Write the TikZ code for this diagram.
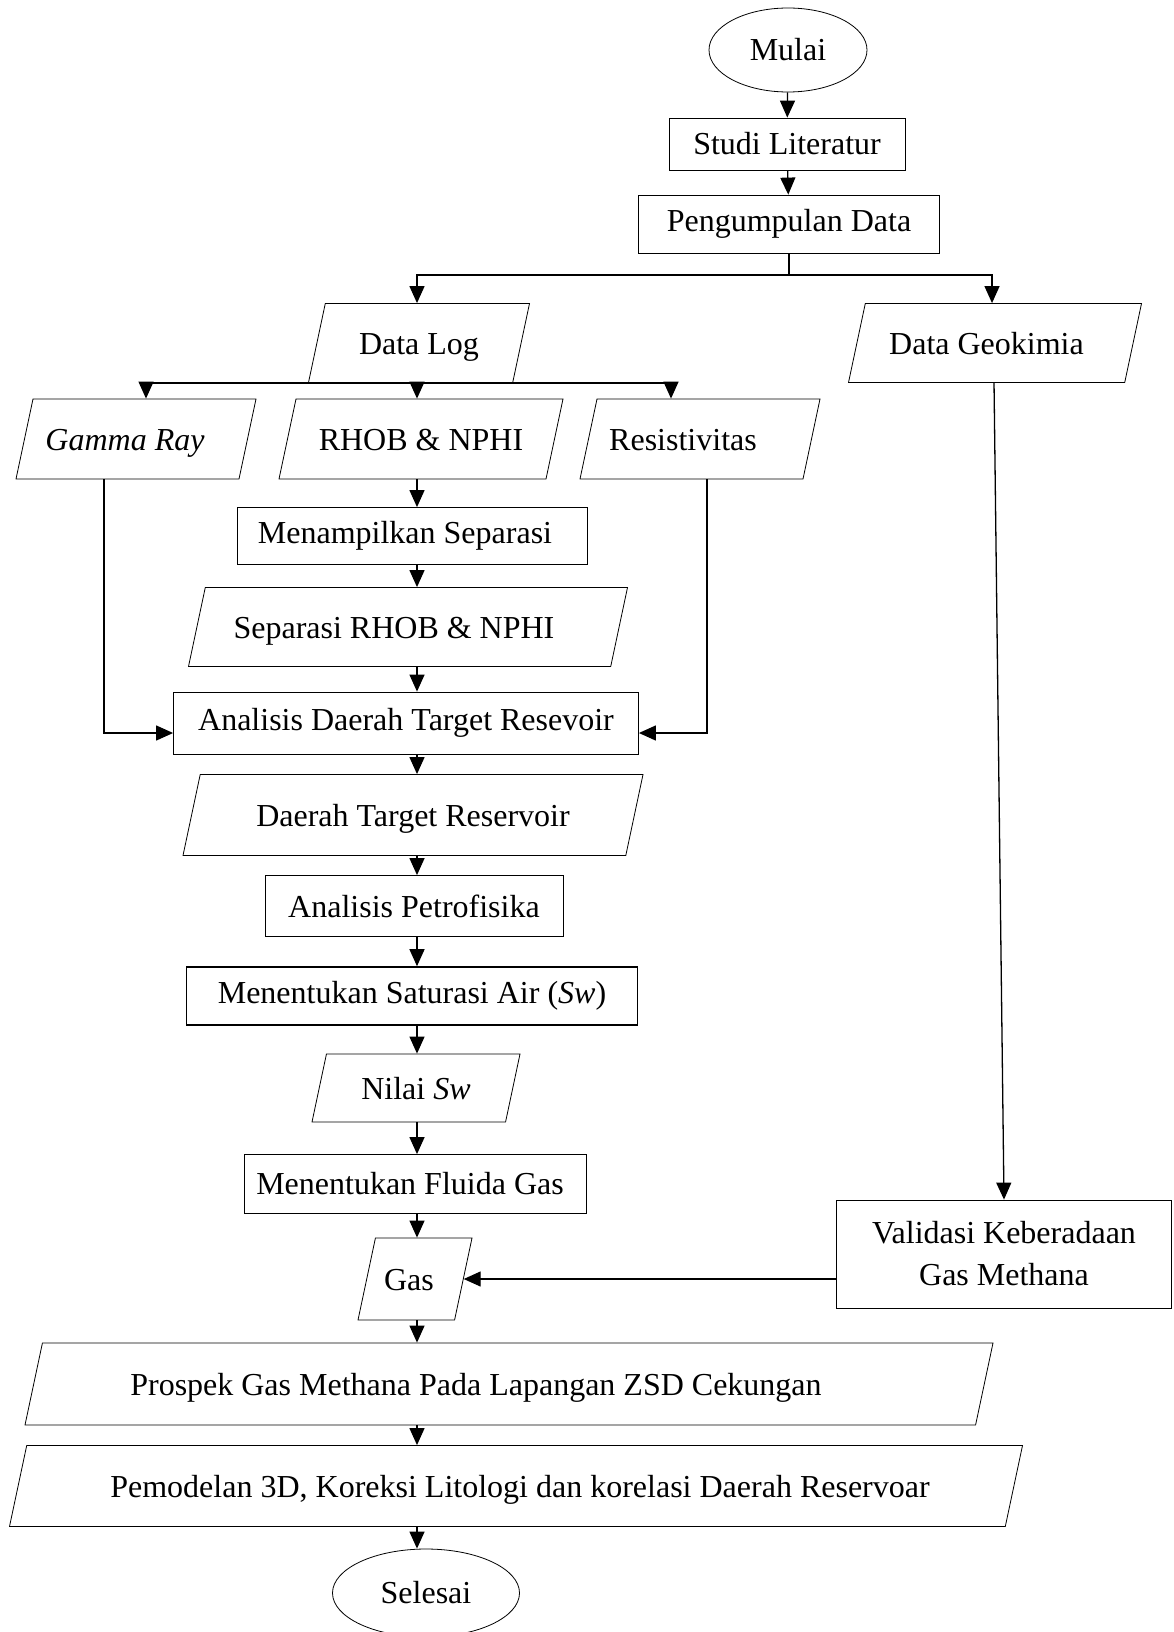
\documentclass[tikz,border=0pt]{standalone}
\usepackage{fontspec}
\setmainfont{Liberation Serif}
\usetikzlibrary{shapes.geometric,arrows.meta}

\begin{document}
\begin{tikzpicture}[x=1pt,y=1pt]
       \tikzstyle{every node}=[font=\fontsize{32}{42}\selectfont]
       \tikzstyle{prosesnode}=[draw, rectangle, line width=0.8pt, inner sep=0pt]
       \tikzstyle{datanode}=[draw, trapezium, trapezium left angle=78, trapezium right angle=102, trapezium stretches body, line width=0.8pt, inner xsep=0pt, text height=27pt, text depth=4pt]
       \tikzstyle{ujungnode}=[draw, ellipse, line width=0.8pt, inner sep=0pt]
       \tikzstyle{alur}=[draw, line width=1.3pt, -{Triangle[width=15pt,length=17pt]}]
       \useasboundingbox (0,0) rectangle (1173,-1632);
       \coordinate (kolom) at (417,0);
       % kolom kanan
       \node[ujungnode, minimum width=158pt, minimum height=84pt] (mulai) at (788,-50) {Mulai};
       \node[prosesnode, minimum width=236pt, minimum height=52pt] (studi) at (787,-144) {Studi Literatur};
       \node[prosesnode, minimum width=301pt, minimum height=58pt] (kumpul) at (789,-224) {Pengumpulan Data};
       \coordinate (cabang) at (789,-275);
       \node[datanode, minimum width=221pt, inner ysep=24pt] (datalog) at (419,-343) {Data Log};
       \node[datanode, minimum width=293pt, inner ysep=24pt] (geokimia) at (995,-343) {\kern-17pt Data Geokimia};
       % tiga data log
       \node[datanode, minimum width=240pt, inner ysep=24.5pt] (gamma) at (136,-439) {\kern-22pt\textit{Gamma Ray}};
       \node[datanode, minimum width=284pt, inner ysep=24.5pt] (rhob) at (421,-439) {RHOB \& NPHI};
       \node[datanode, minimum width=240pt, inner ysep=24.5pt] (resist) at (700,-439) {\kern-34pt Resistivitas};
       % kolom tengah
       \node[prosesnode, minimum width=350pt, minimum height=57pt] (tampil) at (412,-536) {\kern-14pt Menampilkan Separasi};
       \node[datanode, minimum width=439pt, inner ysep=24pt] (separasi) at (408,-627) {\kern-28pt Separasi RHOB \& NPHI};
       \node[prosesnode, minimum width=465pt, minimum height=62pt] (analisis) at (406,-723) {Analisis Daerah Target Resevoir};
       \node[datanode, minimum width=460pt, inner ysep=25pt] (target) at (413,-815) {Daerah Target Reservoir};
       \node[prosesnode, minimum width=298pt, minimum height=61pt] (petro) at (414,-906) {Analisis Petrofisika};
       \node[prosesnode, minimum width=451pt, minimum height=58pt, line width=1.6pt] (saturasi) at (412,-996) {Menentukan Saturasi Air (\textit{Sw})};
       \node[datanode, minimum width=208pt, inner ysep=18.5pt] (nilai) at (416,-1088) {Nilai \textit{Sw}};
       \node[prosesnode, minimum width=342pt, minimum height=59pt] (fluida) at (415,-1184) {\kern-10pt Menentukan Fluida Gas};
       \node[datanode, minimum width=114pt, inner ysep=25.5pt] (gas) at (415,-1279) {\kern-12pt Gas};
       \node[prosesnode, minimum width=335pt, minimum height=108pt, align=center] (validasi) at (1004,-1254) {Validasi Keberadaan\\Gas Methana};
       \node[datanode, minimum width=968pt, inner ysep=25.5pt] (prospek) at (509,-1384) {\kern-66pt Prospek Gas Methana Pada Lapangan ZSD Cekungan};
       \node[datanode, minimum width=1013pt, inner ysep=25pt] (model) at (516,-1486) {\kern8pt Pemodelan 3D, Koreksi Litologi dan korelasi Daerah Reservoar};
       \node[ujungnode, minimum width=187pt, minimum height=88pt] (selesai) at (426,-1593) {Selesai};
       % alur
       \draw[alur] (mulai) -- (studi);
       \draw[alur] (studi) -- (kumpul);
       \draw[line width=1.3pt] (kumpul.south) -- (cabang);
       \draw[alur] (cabang) -| (datalog.north -| kolom);
       \draw[alur] (cabang) -| ([xshift=-3pt]geokimia.north);
       \draw[alur] (datalog.south) -| ([xshift=10pt]gamma.north);
       \draw[alur] (datalog.south -| kolom) -- (rhob.north -| kolom);
       \draw[alur] (datalog.south) -| ([xshift=-29pt]resist.north);
       \draw[alur] (rhob.south -| kolom) -- (tampil.north -| kolom);
       \draw[alur] (tampil.south -| kolom) -- (separasi.north -| kolom);
       \draw[alur] (separasi.south -| kolom) -- (analisis.north -| kolom);
       \draw[alur] ([xshift=-32pt]gamma.south) |- ([yshift=-10pt]analisis.west);
       \draw[alur] ([xshift=7pt]resist.south) |- ([yshift=-10pt]analisis.east);
       \draw[alur] (analisis.south -| kolom) -- (target.north -| kolom);
       \draw[alur] (target.south -| kolom) -- (petro.north -| kolom);
       \draw[alur] (petro.south -| kolom) -- (saturasi.north -| kolom);
       \draw[alur] (saturasi.south -| kolom) -- (nilai.north -| kolom);
       \draw[alur] (nilai.south -| kolom) -- (fluida.north -| kolom);
       \draw[alur] (fluida.south -| kolom) -- (gas.north -| kolom);
       \draw[alur] ([xshift=-1pt]geokimia.south) -- (validasi.north);
       \draw[alur] (validasi.west |- gas.east) -- (gas.east);
       \draw[alur] (gas.south -| kolom) -- (prospek.north -| kolom);
       \draw[alur] (prospek.south -| kolom) -- (model.north -| kolom);
       \draw[alur] (model.south -| kolom) -- (selesai.north -| kolom);
\end{tikzpicture}
\end{document}
